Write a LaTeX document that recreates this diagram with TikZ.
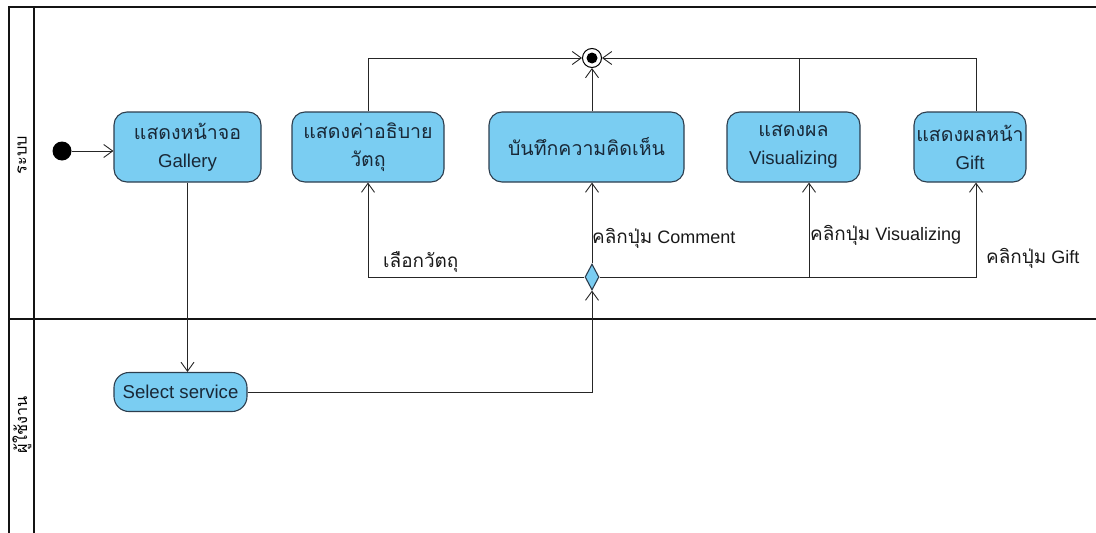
\documentclass[tikz,border=0pt]{standalone}
\usepackage{fontspec}
\setmainfont{Liberation Sans}
\newfontfamily\thaifont[Script=Thai,Scale=1.05]{Loma}
\newcommand{\thtxt}[1]{{\thaifont #1}}
\usetikzlibrary{arrows.meta,shapes.geometric,calc}
\definecolor{boxfill}{RGB}{122,205,242}
\definecolor{boxline}{RGB}{45,62,78}
\definecolor{boxtext}{RGB}{25,40,55}
\definecolor{frameline}{RGB}{20,20,20}
\begin{document}
\begin{tikzpicture}[x=1pt,y=-1pt,
  action/.style={draw=boxline,fill=boxfill,line width=1.1pt,rounded corners=13pt,
    inner sep=0pt,align=center,text=boxtext,font=\fontsize{18.6}{28}\selectfont},
  flow/.style={draw=black!85,line width=1pt},
  arr/.style={flow,-{Straight Barb[length=9pt,width=13pt,line width=0.9pt]}},
  guard/.style={inner sep=0pt,anchor=west,text=black!90,font=\fontsize{18}{20}\selectfont},
  lanelabel/.style={rotate=90,inner sep=0pt,font=\fontsize{15.5}{18}\selectfont},
  lane/.style={draw=frameline,line width=2pt}]
\useasboundingbox (0,0) rectangle (1096,533);

% swimlane frame
\draw[lane] (9,533) -- (9,7) -- (1096,7);
\draw[lane] (34,7) -- (34,533);
\draw[lane] (9,319) -- (1096,319);
\node[lanelabel] (laneSys) at (22,155) {\thtxt{ระบบ}};
\node[lanelabel] (laneUser) at (22,425) {\thtxt{ผู้ใช้งาน}};

% start and end
\node[circle,fill=black,minimum size=19pt,inner sep=0pt] (init) at (62,151) {};
\node[circle,draw=black,line width=1pt,fill=white,minimum size=19pt,inner sep=0pt] (fin) at (592,58) {};
\node[circle,fill=black,minimum size=11pt,inner sep=0pt] (finDot) at (fin.center) {};

% actions
\node[action,minimum width=147pt,minimum height=70pt] (gal) at (187.5,147) {\thtxt{แสดงหน้าจอ}\\Gallery};
\node[action,minimum width=152pt,minimum height=70pt] (obj) at (368,147) {\thtxt{แสดงค่าอธิบาย}\\\thtxt{วัตถุ}};
\node[action,minimum width=195pt,minimum height=70pt] (cmt) at (586.5,147) {\thtxt{บันทึกความคิดเห็น}};
\node[action,minimum width=133pt,minimum height=70pt] (vis) at (793.5,147) {\thtxt{แสดงผล}\\Visualizing};
\node[action,minimum width=112pt,minimum height=70pt] (gift) at (970,147) {\thtxt{แสดงผลหน้า}\\Gift};
\node[action,minimum width=133pt,minimum height=39pt,rounded corners=15pt] (sel) at (180.5,392) {Select service};

% decision
\node[diamond,draw=boxline,fill=boxfill,line width=1.1pt,minimum width=14pt,minimum height=26pt,
  inner sep=0pt,aspect=0.5] (dec) at (592,277) {};

% flows
\draw[arr] (init) -- (init -| gal.west);
\draw[arr] (gal.south) -- (gal.south |- sel.north);
\draw[arr] (sel.east) -| (dec.south);
\draw[arr] (dec.west) -| (obj.south);
\draw[arr] (dec.north) -- (dec.north |- cmt.south);
\draw[arr] (dec.east) -| ([xshift=15.5pt]vis.south);
\draw[arr] (dec.east) -| ([xshift=6pt]gift.south);

\draw[arr] (obj.north) |- (fin.west);
\draw[arr] (fin.south |- cmt.north) -- (fin.south);
\draw[arr] ([xshift=6pt]gift.north) |- (fin.east);
\draw[flow] ([xshift=5.5pt]vis.north) -- ([xshift=5.5pt]vis.north |- fin.east);

% guards
\node[guard] (gObj) at (383,262) {\thtxt{เลือกวัตถุ}};
\node[guard] (gCmt) at (592,238) {\thtxt{คลิกปุ่ม} Comment};
\node[guard] (gVis) at (810,235) {\thtxt{คลิกปุ่ม} Visualizing};
\node[guard] (gGift) at (986,258) {\thtxt{คลิกปุ่ม} Gift};
\end{tikzpicture}
\end{document}
